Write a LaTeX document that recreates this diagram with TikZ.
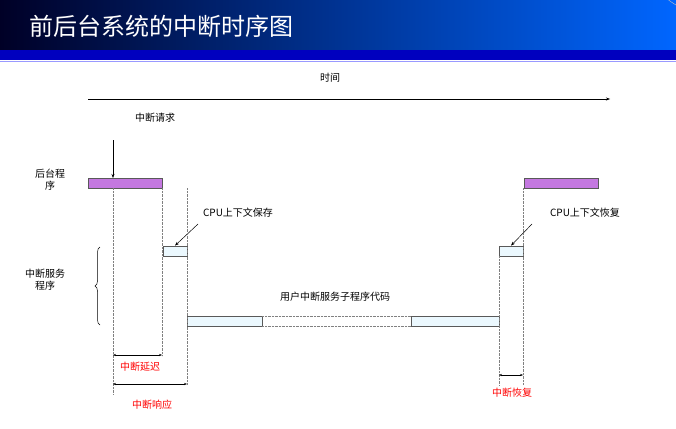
\documentclass[tikz,border=0pt]{standalone}
\usepackage{fontspec}
\setmainfont{Noto Sans CJK SC}
\usetikzlibrary{decorations.pathreplacing,arrows.meta}
\definecolor{lav}{RGB}{196,120,224}
\begin{document}
\begin{tikzpicture}[x=1pt,y=-1pt,
  lbl/.style={font=\fontsize{10}{12}\selectfont, inner sep=1pt, align=center},
  red lbl/.style={lbl, text=red},
  bar/.style={draw=gray!70!black, line width=0.8pt},
  guide/.style={densely dotted, gray, line width=0.4pt},
  dim/.style={{Stealth[length=3pt]}-{Stealth[length=3pt]}, line width=0.5pt},
  pt/.style={-{Stealth[length=4pt]}, line width=0.5pt}]
\useasboundingbox (0,0) rectangle (676,428);
\fill[white] (0,0) rectangle (676,428);
% header
\shade[left color=black!85!blue, right color=blue!60!cyan] (0,0) rectangle (676,50);
\fill[blue!75!black] (0,50) rectangle (676,60);
\draw[blue!40, line width=0.8pt] (0,61) -- (676,61);
\node[anchor=west, text=white, font=\fontsize{24}{28}\selectfont] (title) at (26,26) {前后台系统的中断时序图};
\draw[gray!50, line width=0.4pt] (676,5) arc[start angle=120, end angle=240, radius=60];
% time axis
\node[lbl] (time) at (330,78) {时间};
\coordinate (t0) at (88,99); \coordinate (t1) at (610,99);
\draw[pt] (t0) -- (t1);
% request
\node[lbl] (req) at (155,118) {中断请求};
\coordinate (r0) at (113,140); \coordinate (r1) at (113,178);
\draw[pt] (r0) -- (r1);
% background
\node[lbl] (bg) at (50,180) {后台程\\序};
\draw[bar, fill=lav] (88,178) rectangle (162,188);
\draw[bar, fill=lav] (524,178) rectangle (598,188);
% context save/restore
\node[lbl] (save) at (238,213) {CPU上下文保存};
\node[bar, fill=cyan!8, minimum width=24pt, minimum height=10pt, inner sep=0pt] (sbox) at (175,251) {};
\draw[pt] (198,224) -- (sbox.north);
\node[lbl] (rest) at (585,213) {CPU上下文恢复};
\node[bar, fill=cyan!8, minimum width=24pt, minimum height=10pt, inner sep=0pt] (rbox) at (511,251) {};
\draw[pt] (532,224) -- (rbox.north);
% ISR
\node[lbl] (isr) at (45,280) {中断服务\\程序};
\draw[decorate, decoration={brace, amplitude=5pt}, line width=0.5pt] (100,325) -- (100,247);
\draw[bar, fill=cyan!8] (187,316) rectangle (262,326);
\draw[bar, fill=cyan!8] (411,316) rectangle (499,326);
\draw[guide] (262,316) -- (411,316);
\draw[guide] (262,326) -- (411,326);
\node[lbl] (code) at (335,297) {用户中断服务子程序代码};
% guides
\draw[guide] (113,188) -- (113,395);
\draw[guide] (162,188) -- (162,356);
\draw[guide] (187,188) -- (187,385);
\draw[guide] (499,256) -- (499,385);
\draw[guide] (523,188) -- (523,385);
% dimensions
\draw[dim] (113,355) -- (162,355);
\node[red lbl] (lat) at (140,367) {中断延迟};
\draw[dim] (113,384) -- (187,384);
\node[red lbl] (resp) at (152,405) {中断响应};
\draw[dim] (499,375) -- (523,375);
\node[red lbl] (rec) at (512,393) {中断恢复};
\end{tikzpicture}
\end{document}
